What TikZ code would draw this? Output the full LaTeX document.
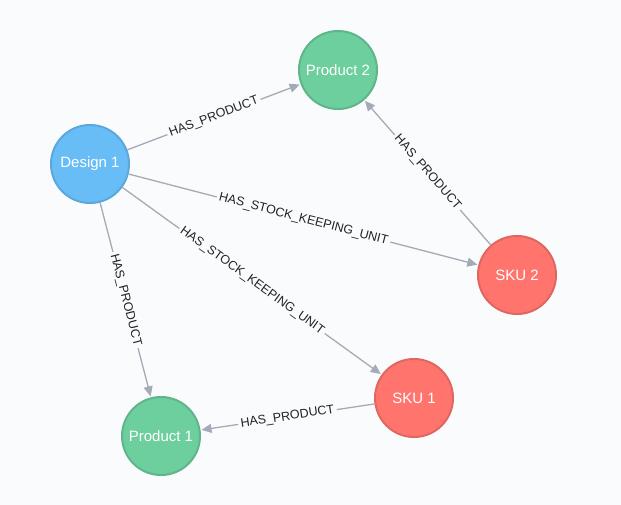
\documentclass[tikz,border=0pt]{standalone}
\usepackage{fontspec}
\setmainfont{Liberation Sans}
\usetikzlibrary{arrows.meta}
\definecolor{bg}{HTML}{F9FBFD}
\definecolor{bluefill}{HTML}{68BDF6}
\definecolor{bluedraw}{HTML}{5CA8DB}
\definecolor{greenfill}{HTML}{6DCE9E}
\definecolor{greendraw}{HTML}{60B58B}
\definecolor{redfill}{HTML}{FF756E}
\definecolor{reddraw}{HTML}{E06760}
\definecolor{edgecol}{HTML}{A5ABB6}
\definecolor{lblcol}{HTML}{222222}
\tikzset{
  gnode/.style={circle, minimum size=78pt, inner sep=0pt, line width=2pt, text=white, font=\fontsize{15}{15}\selectfont},
  design/.style={gnode, fill=bluefill, draw=bluedraw},
  product/.style={gnode, fill=greenfill, draw=greendraw},
  sku/.style={gnode, fill=redfill, draw=reddraw},
  rel/.style={draw=edgecol, line width=1.3pt, -{Triangle[length=10pt,width=9pt]}, shorten >=1pt},
  lbl/.style={midway, sloped, fill=bg, inner sep=2.5pt, text=lblcol, font=\fontsize{12.5}{12.5}\selectfont}
}
\begin{document}
\begin{tikzpicture}[x=1pt,y=-1pt]
\fill[bg] (0,0) rectangle (621,505);
\useasboundingbox (0,0) rectangle (621,505);
\node[design] (d1) at (90,164) {Design 1};
\node[product] (p2) at (338,70) {Product 2};
\node[sku] (s2) at (517,275) {SKU 2};
\node[sku] (s1) at (414,398) {SKU 1};
\node[product] (p1) at (161,436) {Product 1};
\draw[rel] (d1) -- node[lbl]{HAS\_PRODUCT} (p2);
\draw[rel] (s2) -- node[lbl]{HAS\_PRODUCT} (p2);
\draw[rel] (d1) -- node[lbl]{HAS\_STOCK\_KEEPING\_UNIT} (s2);
\draw[rel] (d1) -- node[lbl]{HAS\_STOCK\_KEEPING\_UNIT} (s1);
\draw[rel] (d1) -- node[lbl]{HAS\_PRODUCT} (p1);
\draw[rel] (s1) -- node[lbl]{HAS\_PRODUCT} (p1);
\end{tikzpicture}
\end{document}
